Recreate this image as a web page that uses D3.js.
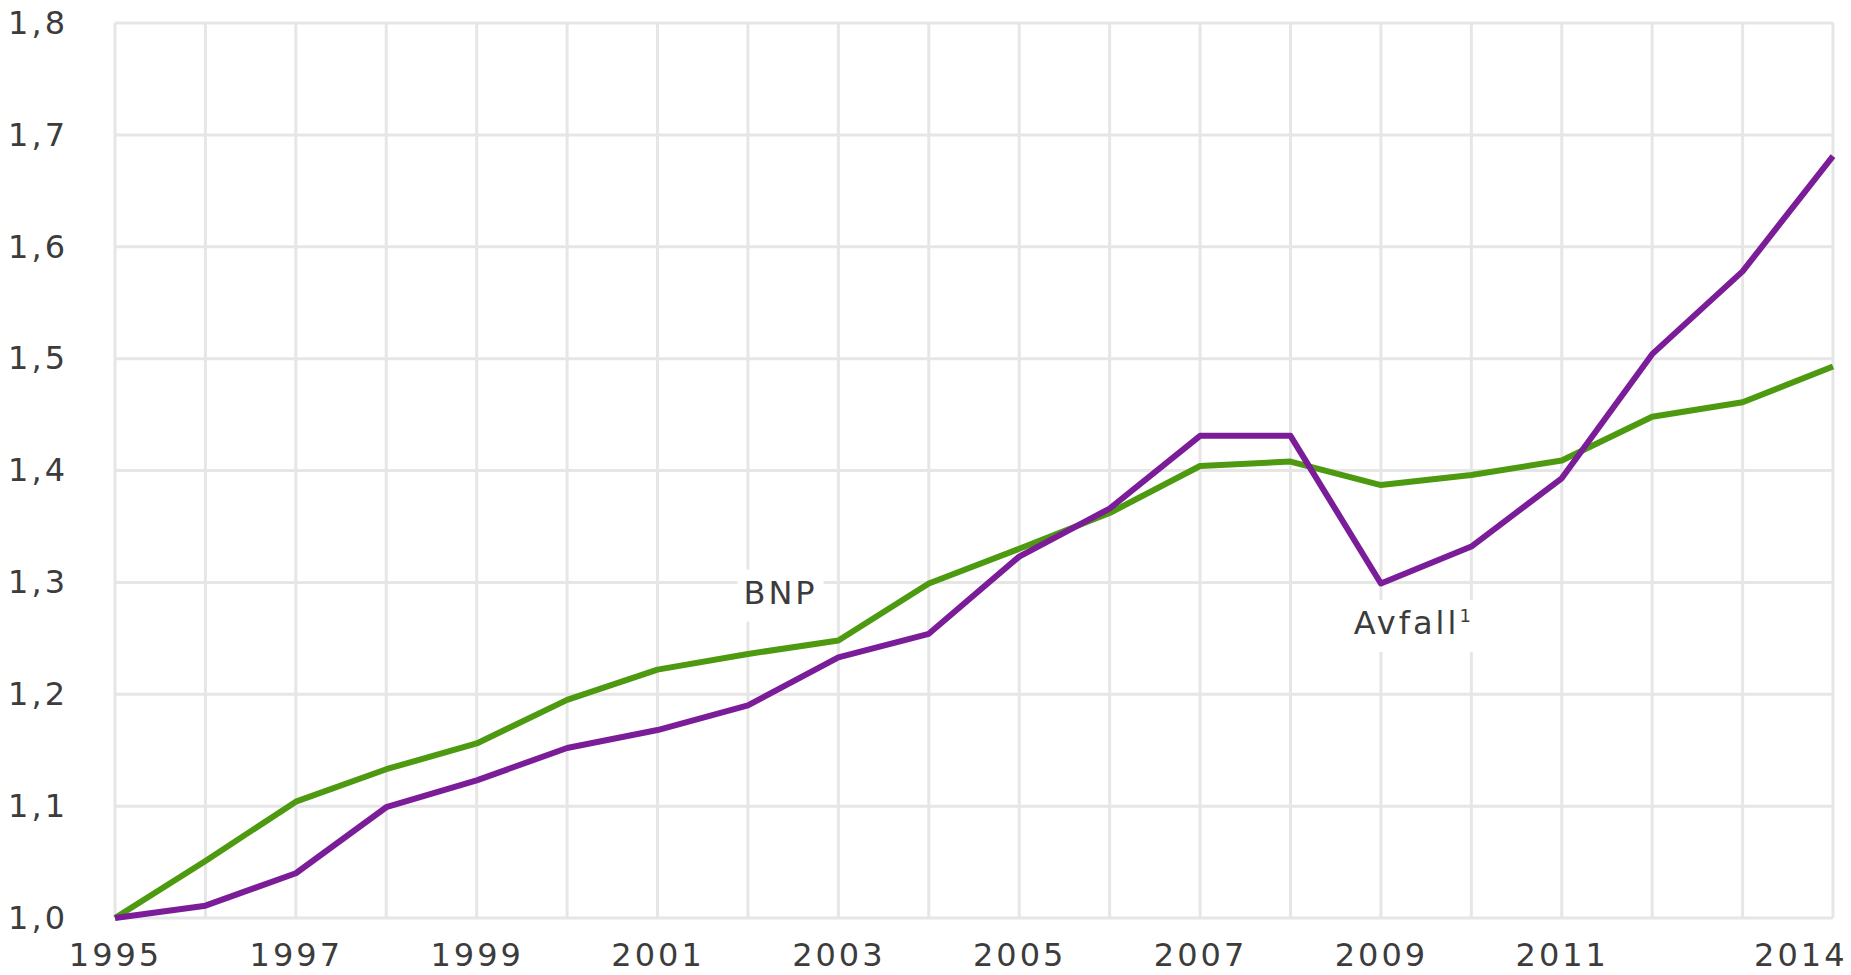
<!DOCTYPE html>
<html>
<head>
<meta charset="utf-8">
<script src="https://cdn.jsdelivr.net/npm/d3@7"></script>
<style>
    body { margin: 0; background: #fff; }
    text { font-family: "DejaVu Sans", Verdana, sans-serif; }
</style>
</head>
<body>
<div id="chart"></div>
<script>
// data (index, 1995 = 1,0)
var years = [1995, 1996, 1997, 1998, 1999, 2000, 2001, 2002, 2003, 2004,
             2005, 2006, 2007, 2008, 2009, 2010, 2011, 2012, 2013, 2014];
var bnp = [1.000, 1.051, 1.104, 1.133, 1.156, 1.195, 1.222, 1.236, 1.248, 1.299,
           1.330, 1.362, 1.404, 1.408, 1.387, 1.396, 1.409, 1.448, 1.461, 1.493];
var avfall = [1.000, 1.011, 1.040, 1.099, 1.123, 1.152, 1.168, 1.190, 1.233, 1.254,
              1.323, 1.366, 1.431, 1.431, 1.299, 1.332, 1.393, 1.504, 1.578, 1.681];
var xTickYears = [1995, 1997, 1999, 2001, 2003, 2005, 2007, 2009, 2011, 2014];
var yTicks = [1.0, 1.1, 1.2, 1.3, 1.4, 1.5, 1.6, 1.7, 1.8];

var margin = {top: 23, right: 18, bottom: 57, left: 115},
    width = 1851 - margin.left - margin.right,
    height = 975 - margin.top - margin.bottom;

var svg = d3.select("#chart")
        .append("svg")
        .attr("width", 1851)
        .attr("height", 975)
        .append("g")
        .attr("transform", "translate(" + margin.left + "," + margin.top + ")");

var x = d3.scaleLinear()
        .domain([1995, 2014])
        .range([0, width]);

var y = d3.scaleLinear()
        .domain([1.0, 1.8])
        .range([height, 0]);

var fmt = d3.formatLocale({decimal: ",", thousands: " ", grouping: [3], currency: ["", ""]}).format(".1f");

// grid
svg.append("g")
        .selectAll("line")
        .data(years)
        .enter()
        .append("line")
        .attr("x1", function (d) { return x(d); })
        .attr("x2", function (d) { return x(d); })
        .attr("y1", 0)
        .attr("y2", height)
        .attr("stroke", "#e6e6e6")
        .attr("stroke-width", 3);

svg.append("g")
        .selectAll("line")
        .data(yTicks)
        .enter()
        .append("line")
        .attr("x1", 0)
        .attr("x2", width)
        .attr("y1", function (d) { return y(d); })
        .attr("y2", function (d) { return y(d); })
        .attr("stroke", "#e6e6e6")
        .attr("stroke-width", 3);

// axes
var yAxis = svg.append("g")
        .call(d3.axisLeft(y).tickValues(yTicks).tickFormat(fmt).tickSize(0).tickPadding(47));
yAxis.select(".domain").remove();
yAxis.selectAll("text")
        .attr("fill", "#3c3c3c")
        .style("font-size", "32px")
        .style("letter-spacing", "3px");

var xAxis = svg.append("g")
        .attr("transform", "translate(0," + height + ")")
        .call(d3.axisBottom(x).tickValues(xTickYears).tickFormat(d3.format("d")).tickSize(0).tickPadding(25));
xAxis.select(".domain").remove();
xAxis.selectAll("text")
        .attr("fill", "#3c3c3c")
        .style("font-size", "32px")
        .style("letter-spacing", "3px");
// last label sits flush with the right edge
xAxis.selectAll(".tick")
        .filter(function (d) { return d === 2014; })
        .select("text")
        .attr("text-anchor", "end")
        .attr("dx", 14);

// lines
var line = d3.line()
        .x(function (d) { return x(d[0]); })
        .y(function (d) { return y(d[1]); });

svg.append("path")
        .datum(d3.zip(years, bnp))
        .attr("d", line)
        .attr("fill", "none")
        .attr("stroke", "#4d990f")
        .attr("stroke-width", 6)
        .attr("stroke-linejoin", "round");

svg.append("path")
        .datum(d3.zip(years, avfall))
        .attr("d", line)
        .attr("fill", "none")
        .attr("stroke", "#7b1c98")
        .attr("stroke-width", 6)
        .attr("stroke-linejoin", "round");

// series labels with white background
function addLabel(txt, sup, xv, yv) {
    var g = svg.append("g");
    var t = g.append("text")
            .attr("x", x(xv))
            .attr("y", y(yv))
            .attr("fill", "#3c3c3c")
            .style("font-size", "32px")
            .style("letter-spacing", "3px")
            .text(txt);
    if (sup) {
        t.append("tspan")
                .attr("dy", -12)
                .style("font-size", "18px")
                .style("letter-spacing", "0px")
                .text(sup);
    }
    var b = t.node().getBBox();
    g.insert("rect", "text")
            .attr("x", b.x - 6)
            .attr("y", b.y - 4)
            .attr("width", b.width + 12)
            .attr("height", b.height + 14)
            .attr("fill", "#fff");
}

addLabel("BNP", null, 2001.95, 1.281);
addLabel("Avfall", "1", 2008.7, 1.254);
</script>
</body>
</html>
